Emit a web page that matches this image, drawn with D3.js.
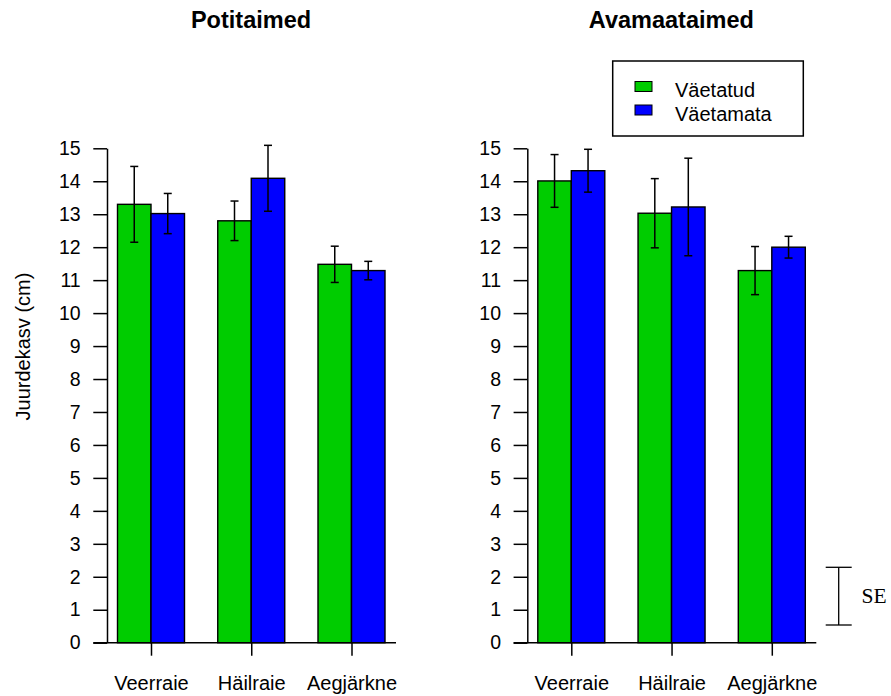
<!DOCTYPE html>
<html><head><meta charset="utf-8">
<script src="https://cdn.jsdelivr.net/npm/d3@7"></script>
<style>body{margin:0;background:#fff}svg{display:block}</style>
</head><body><svg id="c" width="891" height="696"></svg>
<script>
const categories = ["Veerraie", "Häilraie", "Aegjärkne"];
const seriesNames = ["Väetatud", "Väetamata"];
const panelTitles = ["Potitaimed", "Avamaataimed"];
// Potitaimed
const potiFert = [13.3, 12.8, 11.48];
const potiFertSE = [1.15, 0.6, 0.55];
const potiUnfert = [13.02, 14.09, 11.29];
const potiUnfertSE = [0.61, 1.0, 0.28];
// Avamaataimed
const avaFert = [14.01, 13.03, 11.29];
const avaFertSE = [0.8, 1.05, 0.73];
const avaUnfert = [14.32, 13.22, 12.0];
const avaUnfertSE = [0.65, 1.48, 0.33];
const yTicks = d3.range(0, 16);
const colors = ["#00cc00", "#0000ff"];

const FONT = "Liberation Sans, Arial, Helvetica, sans-serif";
const svg = d3.select("#c");
const y = d3.scaleLinear().domain([0, 15]).range([642.7, 148.3]);
const barW = 33.5;

const panels = [
  {title: panelTitles[0], off: 0, data: [potiFert, potiUnfert], se: [potiFertSE, potiUnfertSE]},
  {title: panelTitles[1], off: 420.3, data: [avaFert, avaUnfert], se: [avaFertSE, avaUnfertSE]}
];

panels.forEach(p => {
  const g = svg.append("g").attr("transform", `translate(${p.off},0)`);
  const x = d3.scalePoint().domain(categories).range([151, 351.5]);
  // title
  g.append("text").attr("x", 251).attr("y", 28.3).attr("text-anchor", "middle")
    .attr("font-family", FONT).attr("font-weight", "bold")
    .attr("font-size", 23.5).text(p.title);
  // bars
  p.data.forEach((vals, si) => {
    g.selectAll(null).data(vals).enter().append("rect")
      .attr("x", (d, i) => x(categories[i]) + (si === 0 ? -barW : 0))
      .attr("y", d => y(d)).attr("width", barW).attr("height", d => y(0) - y(d))
      .attr("fill", colors[si]).attr("stroke", "#000").attr("stroke-width", 1.4);
  });
  // error bars
  p.data.forEach((vals, si) => {
    vals.forEach((v, i) => {
      const cx = x(categories[i]) + (si === 0 ? -barW / 2 : barW / 2);
      const se = p.se[si][i];
      const eg = g.append("g").attr("stroke", "#000").attr("stroke-width", 1.5);
      eg.append("line").attr("x1", cx).attr("x2", cx).attr("y1", y(v + se)).attr("y2", y(v - se));
      eg.append("line").attr("x1", cx - 4).attr("x2", cx + 4).attr("y1", y(v + se)).attr("y2", y(v + se));
      eg.append("line").attr("x1", cx - 4).attr("x2", cx + 4).attr("y1", y(v - se)).attr("y2", y(v - se));
    });
  });
  // y axis
  const ya = g.append("g").attr("transform", "translate(107,0)")
    .call(d3.axisLeft(y).tickValues(yTicks).tickSize(13.7).tickPadding(12.6).tickSizeOuter(0));
  ya.select(".domain").attr("stroke-width", 1.5);
  ya.selectAll(".tick line").attr("stroke-width", 1.5);
  ya.selectAll("text").attr("font-family", FONT).attr("font-size", 19.5).attr("fill", "#000");
  // x axis
  const xa = g.append("g").attr("transform", `translate(0,${y(0)})`)
    .call(d3.axisBottom(x).tickSize(13).tickPadding(19.8).tickSizeOuter(0));
  xa.select(".domain").remove();
  xa.append("line").attr("x1", 93.3).attr("x2", 396).attr("stroke", "#000").attr("stroke-width", 1.5);
  xa.selectAll(".tick line").attr("stroke-width", 1.5);
  xa.selectAll("text").attr("font-family", FONT).attr("font-size", 20).attr("fill", "#000");
});

// y label
svg.append("text").attr("transform", "translate(30,346.5) rotate(-90)").attr("text-anchor", "middle")
  .attr("font-family", FONT).attr("font-size", 20).text("Juurdekasv (cm)");

// legend
const lg = svg.append("g");
lg.append("rect").attr("x", 612.7).attr("y", 61).attr("width", 190.6).attr("height", 75)
  .attr("fill", "none").attr("stroke", "#000").attr("stroke-width", 1.5);
seriesNames.forEach((n, i) => {
  lg.append("rect").attr("x", 635).attr("y", 81.5 + i * 23.5).attr("width", 17).attr("height", 10)
    .attr("fill", colors[i]).attr("stroke", "#000").attr("stroke-width", 1);
  lg.append("text").attr("x", 675).attr("y", 96.7 + i * 24).attr("font-family", FONT)
    .attr("font-size", 20).text(n);
});

// SE marker
const sg = svg.append("g").attr("stroke", "#000").attr("stroke-width", 1.3);
sg.append("line").attr("x1", 838.7).attr("x2", 838.7).attr("y1", 567.3).attr("y2", 625);
sg.append("line").attr("x1", 825.7).attr("x2", 851.7).attr("y1", 567.3).attr("y2", 567.3);
sg.append("line").attr("x1", 825.7).attr("x2", 851.7).attr("y1", 625).attr("y2", 625);
svg.append("text").attr("x", 861.5).attr("y", 602.7).attr("font-family", "Liberation Serif, Times New Roman, serif")
  .attr("font-size", 21.5).text("SE");
</script></body></html>
